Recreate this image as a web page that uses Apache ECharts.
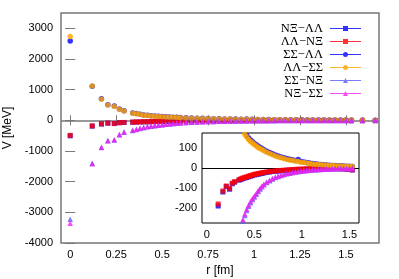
<!DOCTYPE html>
<html><head><meta charset="utf-8">
<script src="https://cdn.jsdelivr.net/npm/echarts@6/dist/echarts.min.js"></script>
<style>html,body{margin:0;padding:0;background:#fff}#c{width:399px;height:279px}</style>
</head><body><div id="c"></div>
<script>
// r [fm]
const rVals = [0, 0.12, 0.17, 0.205, 0.24, 0.268, 0.293, 0.34, 0.36, 0.38,
  0.40, 0.42, 0.44, 0.46, 0.48, 0.50, 0.52, 0.54, 0.56, 0.58,
  0.60, 0.63, 0.66, 0.69, 0.72, 0.75, 0.78, 0.81, 0.84, 0.87,
  0.90, 0.93, 0.96, 0.99, 1.02, 1.05, 1.08, 1.11, 1.14, 1.17,
  1.20, 1.23, 1.26, 1.29, 1.32, 1.35, 1.38, 1.41, 1.44, 1.47,
  1.50, 1.53, 1.59, 1.66];
// NΞ−ΛΛ
const nXiLL = [-505, -190, -120, -93, -106, -79, -71, -61, -57, -53,
  -50, -47, -44, -41, -38, -35, -33, -31, -29, -27,
  -25, -22, -20, -18, -17, -15, -14, -13, -12, -11,
  -10, -9, -8, -7, -7, -6, -6, -5, -5, -4,
  -4, -4, -3, -3, -3, -3, -3, -4, -4, -6,
  -7, -10, -11, -12];
// ΛΛ−NΞ
const LLnXi = [-490, -180, -115, -90, -103, -76, -68, -58, -54, -50,
  -47, -44, -41, -38, -35, -32, -30, -28, -26, -24,
  -22, -20, -18, -16, -15, -13, -12, -11, -10, -9,
  -8, -7, -6, -6, -5, -5, -4, -4, -3, -3,
  -3, -2, -2, -2, -2, -1, -2, -3, -3, -5,
  -6, -9, -10, -11];
// ΣΣ−ΛΛ
const SSLL = [2590, 1110, 700, 510, 470, 370, 315, 240, 225, 198,
  176, 163, 150, 140, 131, 123, 116, 109, 103, 97,
  91, 84, 77, 71, 65, 60, 55, 51, 47, 44,
  41, 38, 42, 32, 30, 27, 25, 23, 21, 19,
  18, 16, 15, 14, 13, 12, 11, 11, 10, 9,
  9, 8, 7, 6];
// ΛΛ−ΣΣ
const LLSS = [2735, 1120, 690, 500, 455, 360, 305, 230, 215, 190,
  168, 155, 143, 133, 125, 117, 110, 103, 97, 92,
  86, 79, 72, 66, 60, 55, 51, 47, 43, 40,
  37, 35, 32, 29, 27, 25, 22, 20, 19, 17,
  16, 15, 14, 13, 12, 11, 10, 10, 9, 9,
  8, 8, 7, 6];
// ΣΣ−NΞ
const SSnXi = [-3225, -1400, -885, -665, -640, -470, -390, -333, -298, -265,
  -237, -212, -191, -174, -158, -145, -131, -117, -105, -94,
  -84, -73, -64, -55, -48, -42, -38, -33, -29, -26,
  -23, -20, -18, -16, -14, -12, -11, -10, -9, -8,
  -7, -6, -5, -5, -4, -4, -3, -3, -3, -2,
  -2, -2, -2, -1];
// NΞ−ΣΣ
const nXiSS = [-3360, -1415, -875, -655, -630, -460, -380, -325, -290, -258,
  -230, -205, -185, -168, -153, -140, -127, -113, -101, -90,
  -81, -70, -61, -53, -46, -40, -36, -32, -28, -25,
  -22, -19, -17, -15, -13, -12, -10, -9, -8, -7,
  -6, -5, -5, -4, -4, -3, -3, -3, -2, -2,
  -2, -2, -1, -1];

const seriesNames = ['NΞ−ΛΛ', 'ΛΛ−NΞ', 'ΣΣ−ΛΛ', 'ΛΛ−ΣΣ', 'ΣΣ−NΞ', 'NΞ−ΣΣ'];
const mainXTicks = [0, 0.25, 0.5, 0.75, 1, 1.25, 1.5];
const mainYTicks = [-4000, -3000, -2000, -1000, 0, 1000, 2000, 3000];
const insetXTicks = [0, 0.5, 1, 1.5];
const insetYTicks = [-200, -100, 0, 100];

const values = [nXiLL, LLnXi, SSLL, LLSS, SSnXi, nXiSS];
const colors = ['#0000ff', '#ff0000', '#0000ff', '#ffa500', '#5a5aff', '#f020f0'];
const symbols = ['rect', 'rect', 'circle', 'circle', 'triangle', 'triangle'];
const sizes = [5, 5, 5.5, 5.5, 5.5, 5.5];
const lineP = 'M0,3.5 L31,3.5 L31,4.5 L0,4.5 Z ';
const icons = {
  rect: 'path://' + lineP + 'M13,1.5 L18,1.5 L18,6.5 L13,6.5 Z',
  circle: 'path://' + lineP + 'M13,4 A2.5,2.5 0 1,1 18,4 A2.5,2.5 0 1,1 13,4 Z',
  triangle: 'path://' + lineP + 'M13,6.5 L15.5,1.5 L18,6.5 Z'
};

const FONT = 'Liberation Sans';
const mainGrey = '#777777';

function pts(i, maxR) {
  const out = [];
  for (let k = 0; k < rVals.length; k++) {
    if (rVals[k] <= maxR) out.push([rVals[k], values[i][k]]);
  }
  return out;
}

const series = [];
for (let i = 0; i < 6; i++) {
  const s = {
    name: seriesNames[i], type: 'scatter', xAxisIndex: 0, yAxisIndex: 0,
    data: pts(i, 10), symbol: symbols[i], symbolSize: sizes[i],
    itemStyle: { color: colors[i] }, silent: true, z: 2
  };
  if (i === 0) {
    s.markLine = { silent: true, z: 1, symbol: 'none', label: { show: false },
      lineStyle: { color: mainGrey, width: 1.5, type: 'solid' }, data: [{ yAxis: 0 }] };
  }
  series.push(s);
}
for (let i = 0; i < 6; i++) {
  const s = {
    name: seriesNames[i], type: 'scatter', xAxisIndex: 2, yAxisIndex: 2,
    data: pts(i, 1.56), symbol: symbols[i], symbolSize: sizes[i],
    itemStyle: { color: colors[i] }, silent: true, z: 6, clip: true
  };
  if (i === 0) {
    s.markLine = { silent: true, z: 5, symbol: 'none', label: { show: false },
      lineStyle: { color: '#000', width: 1, type: 'solid' }, data: [{ yAxis: 0 }] };
  }
  series.push(s);
}

function xAx(grid, pos, min, max, ticks, showLabel, col, len, extra) {
  return Object.assign({
    gridIndex: grid, type: 'value', position: pos, min: min, max: max,
    axisLine: { show: false },
    axisTick: { show: true, inside: true, length: len, customValues: ticks, lineStyle: { color: col, width: 1 } },
    axisLabel: { show: showLabel, customValues: ticks, color: '#000', fontSize: 11, fontFamily: FONT, margin: 6,
      formatter: v => String(v) },
    splitLine: { show: false }
  }, extra || {});
}

const option = {
  animation: false,
  backgroundColor: '#fff',
  grid: [
    { left: 61, top: 13, right: 20, bottom: 36, show: true, borderColor: mainGrey, borderWidth: 1.5,
      backgroundColor: 'transparent', containLabel: false, outerBoundsMode: 'none' },
    { left: 202, top: 133, right: 40, bottom: 56, show: true, borderColor: '#000', borderWidth: 1,
      backgroundColor: '#fff', z: 4, containLabel: false, outerBoundsMode: 'none' }
  ],
  legend: {
    orient: 'vertical', align: 'right', right: 33, top: 17,
    itemWidth: 31, itemHeight: 5, itemGap: 0,
    textStyle: { fontFamily: 'Liberation Serif', fontSize: 12.5, lineHeight: 11, color: '#000', padding: [0, 2, 0, 0] },
    data: seriesNames.map((n, i) => ({ name: n, icon: icons[symbols[i]] })),
    selectedMode: false
  },
  xAxis: [
    xAx(0, 'bottom', -0.05, 1.68, mainXTicks, true, mainGrey, 5, {
      name: 'r [fm]', nameLocation: 'middle', nameGap: 22,
      nameTextStyle: { fontFamily: FONT, fontSize: 12, color: '#000' } }),
    xAx(0, 'top', -0.05, 1.68, mainXTicks, false, mainGrey, 5),
    xAx(1, 'bottom', -0.05, 1.6, insetXTicks, true, '#000', 4),
    xAx(1, 'top', -0.05, 1.6, insetXTicks, false, '#000', 4)
  ],
  yAxis: [
    xAx(0, 'left', -4000, 3500, mainYTicks, true, mainGrey, 5, {
      name: 'V [MeV]', nameLocation: 'middle', nameGap: 39,
      nameTextStyle: { fontFamily: FONT, fontSize: 12, color: '#000' } }),
    xAx(0, 'right', -4000, 3500, mainYTicks, false, mainGrey, 5),
    xAx(1, 'left', -275, 175, insetYTicks, true, '#000', 4),
    xAx(1, 'right', -275, 175, insetYTicks, false, '#000', 4)
  ],
  series: series
};
option.yAxis[0].axisLabel.margin = 8;
option.yAxis[2].axisLabel.margin = 5;

const chart = echarts.init(document.getElementById('c'), null, { renderer: 'canvas' });
chart.setOption(option);
</script>
</body></html>
